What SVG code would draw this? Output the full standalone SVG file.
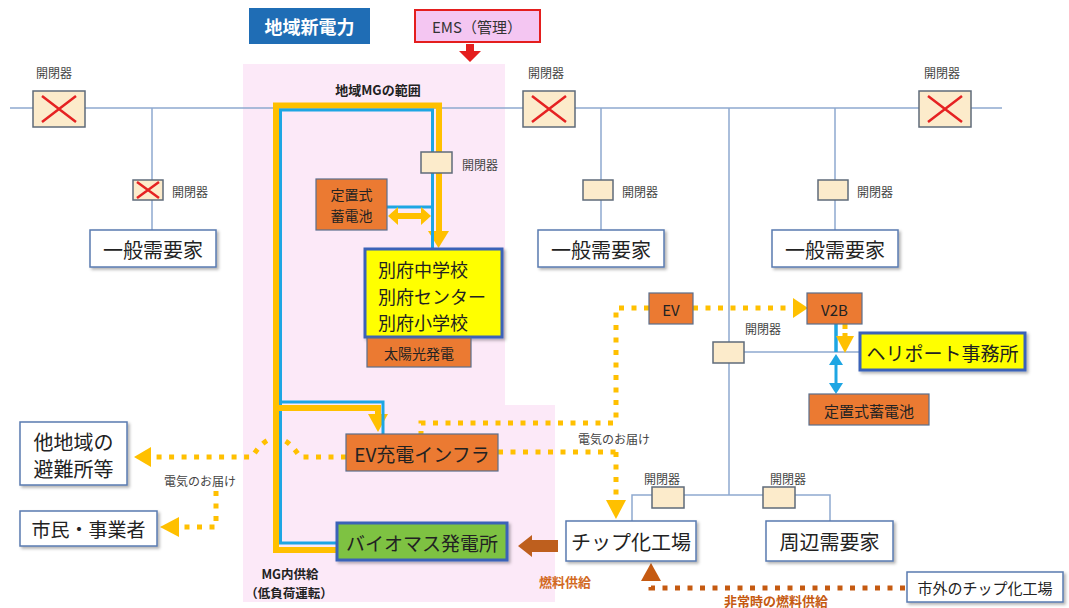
<svg xmlns="http://www.w3.org/2000/svg" width="1069" height="608" viewBox="0 0 1069 608">
<style>
text{font-family:"Noto Sans CJK JP","Noto Sans",sans-serif;fill:#222;text-anchor:middle;dominant-baseline:central}
.lbl{font-size:12px;fill:#444;text-anchor:start}
.sw{fill:#FCEBCB;stroke:#5F6B7A;stroke-width:1.5}
.x{stroke:#E52222;stroke-width:2.5;fill:none}
.wbox{fill:#fff;stroke:#5A7BB0;stroke-width:1.5;filter:url(#sh)}
.ybox{fill:#FFFF00;stroke:#3A62B8;stroke-width:3;filter:url(#sh)}
.obox{fill:#EB7A32;stroke:#5A6E8C;stroke-width:1.2}
.wire{stroke:#8EA9CF;stroke-width:1.5;fill:none}
.dot{stroke:#FFC000;stroke-width:5;stroke-dasharray:5 7.5;fill:none}
.bdot{stroke:#C55A11;stroke-width:5;stroke-dasharray:5 7.5;fill:none}
.big{font-size:20px}
.b{font-weight:bold;font-size:12.5px}
</style>
<defs>
<filter id="sh" x="-10%" y="-10%" width="130%" height="140%"><feDropShadow dx="2" dy="2" stdDeviation="1.5" flood-color="#000" flood-opacity="0.3"/></filter>
</defs>
<rect width="1069" height="608" fill="#fff"/>
<polygon points="243,64 505,64 505,405 555,405 555,602 243,602" fill="#FCE9F8"/>

<g id="connectors">
<path class="wire" d="M10,108 H1002"/>
<path class="wire" d="M152,108 V230"/>
<path class="wire" d="M601,108 V230"/>
<path class="wire" d="M835,108 V230"/>
<path class="wire" d="M729,108 V495"/>
<path class="wire" d="M744,352 H860"/>
<path class="wire" d="M632,521 V495 H830 V521"/>
<path d="M337,550 H276 V105.5 H439 V232" stroke="#FFC000" stroke-width="6" fill="none"/>
<polygon points="428,231 449,231 438.5,248" fill="#FFC000"/>
<path d="M337,543 H280.5 V110 H432.5 V248" stroke="#1EA6E3" stroke-width="3" fill="none"/>
<path d="M276,408 H378 V416" stroke="#FFC000" stroke-width="6" fill="none"/>
<polygon points="368,414 388,414 378,432" fill="#FFC000"/>
<path d="M280.5,402 H383 V434" stroke="#1EA6E3" stroke-width="3" fill="none"/>
<path d="M387,207 H432" stroke="#1EA6E3" stroke-width="3" fill="none"/>
<path d="M395,216 H424" stroke="#FFC000" stroke-width="6"/>
<polygon points="388,216 398,207 398,225" fill="#FFC000"/>
<polygon points="431,216 421,207 421,225" fill="#FFC000"/>
<polygon points="466,44 474,44 474,51 481,51 470,62 459,51 466,51" fill="#E41E1E"/>
<path class="dot" d="M693,308 H795"/>
<polygon points="793,298 793,318 808,308" fill="#FFC000"/>
<path class="dot" d="M649,308 H616 V423"/>
<path class="dot" d="M616,452 V500"/>
<polygon points="606,500 626,500 616,519" fill="#FFC000"/>
<path class="dot" d="M421,436 V423 H616"/>
<path class="dot" d="M498,452 H616"/>
<path class="dot" d="M346,457 H300 Q276,419 252,457 H150"/>
<polygon points="151,447 151,467 134,457" fill="#FFC000"/>
<path class="dot" d="M216,491 V527 H178"/>
<polygon points="179,517 179,537 160,527" fill="#FFC000"/>
<path d="M836,324 V352" stroke="#1EA6E3" stroke-width="3.5"/>
<path d="M836,364 V384" stroke="#1EA6E3" stroke-width="3"/>
<polygon points="829,365 843,365 836,354" fill="#1EA6E3"/>
<polygon points="829,383 843,383 836,394" fill="#1EA6E3"/>
<path d="M845,324 V337" stroke="#FFC000" stroke-width="5" stroke-dasharray="5 4"/>
<polygon points="836,336 854,336 845,353" fill="#FFC000"/>
<polygon points="518,546 532,535 532,540 558,540 558,552 532,552 532,557" fill="#BE5F1E"/>
<path class="bdot" d="M905,588 H651 V580"/>
<polygon points="641,581 661,581 651,563" fill="#C55A11"/>
</g>

<g id="chiiki-shin-denryoku"><rect x="249" y="8" width="121" height="36" fill="#1F6DB5"/><text x="309.5" y="26" style="fill:#fff;font-weight:bold;font-size:18px">地域新電力</text></g>
<g id="ems"><rect x="415" y="10" width="125" height="32" fill="#F4C6F2" stroke="#E41E1E" stroke-width="2"/><text x="477" y="26" style="font-size:15px;fill:#333">EMS（管理）</text></g>

<g id="sw-top1"><text x="54" y="72" style="font-size:12px;fill:#444">開閉器</text><rect class="sw" x="33" y="91" width="52" height="36"/><path class="x" d="M42,96 L76,122 M76,96 L42,122"/></g>
<g id="sw-top2"><text x="546" y="72" style="font-size:12px;fill:#444">開閉器</text><rect class="sw" x="523" y="91" width="52" height="36"/><path class="x" d="M532,96 L566,122 M566,96 L532,122"/></g>
<g id="sw-top3"><text x="942" y="72" style="font-size:12px;fill:#444">開閉器</text><rect class="sw" x="919" y="91" width="52" height="36"/><path class="x" d="M928,96 L962,122 M962,96 L928,122"/></g>

<g id="sw-left"><rect class="sw" x="133" y="180" width="30" height="20"/><path class="x" d="M137,182 L159,198 M159,182 L137,198"/><text class="lbl" x="172" y="191">開閉器</text></g>
<g id="sw-b2"><rect class="sw" x="583" y="180" width="30" height="20"/><text class="lbl" x="622" y="191">開閉器</text></g>
<g id="sw-b4"><rect class="sw" x="818" y="180" width="30" height="20"/><text class="lbl" x="857" y="191">開閉器</text></g>

<g id="demand1"><rect class="wbox" x="90" y="230" width="126" height="37"/><text class="big" x="153" y="249">一般需要家</text></g>
<g id="demand2"><rect class="wbox" x="538" y="230" width="126" height="37"/><text class="big" x="601" y="249">一般需要家</text></g>
<g id="demand3"><rect class="wbox" x="772" y="230" width="126" height="37"/><text class="big" x="835" y="249">一般需要家</text></g>

<g id="mg-label"><text class="b" x="378" y="89" style="font-size:13px">地域MGの範囲</text></g>
<g id="sw-mg"><rect class="sw" x="421" y="152" width="31" height="21"/><text class="lbl" x="462" y="164">開閉器</text></g>
<g id="battery-mg"><rect class="obox" x="316" y="179" width="71" height="51"/><text x="351.5" y="194" style="font-size:14px">定置式</text><text x="351.5" y="215" style="font-size:14px">蓄電池</text></g>
<g id="schools"><rect class="ybox" x="365" y="249" width="137" height="88"/><text x="378" y="269" style="font-size:18px;text-anchor:start">別府中学校</text><text x="378" y="295.5" style="font-size:18px;text-anchor:start">別府センター</text><text x="378" y="322" style="font-size:18px;text-anchor:start">別府小学校</text></g>
<g id="solar"><rect class="obox" x="367" y="338" width="104" height="29"/><text x="419" y="353" style="font-size:14px">太陽光発電</text></g>
<g id="ev-infra"><rect class="obox" x="346" y="434" width="152" height="37"/><text x="422" y="453" style="font-size:19px">EV充電インフラ</text></g>
<g id="biomass"><rect x="337" y="523" width="170" height="37" fill="#7EC243" stroke="#3A62B8" stroke-width="3" filter="url(#sh)"/><text x="422" y="542" style="font-size:19px">バイオマス発電所</text></g>
<g id="mg-supply-label"><text class="b" x="290" y="573">MG内供給</text><text class="b" x="289" y="592">（低負荷運転）</text></g>

<g id="other-shelters"><rect class="wbox" x="20" y="422" width="107" height="63"/><text class="big" x="73.5" y="441">他地域の</text><text class="big" x="73.5" y="468">避難所等</text></g>
<g id="citizens"><rect class="wbox" x="20" y="511" width="137" height="35"/><text x="88.5" y="528" style="font-size:19px">市民・事業者</text></g>
<g id="delivery-label-left"><text x="200" y="480" style="font-size:12px;fill:#444">電気のお届け</text></g>
<g id="delivery-label-right"><text x="614" y="438" style="font-size:12px;fill:#444">電気のお届け</text></g>

<g id="ev"><rect class="obox" x="649" y="293" width="44" height="31"/><text x="671" y="309" style="font-size:15px">EV</text></g>
<g id="v2b"><rect class="obox" x="807" y="293" width="55" height="31"/><text x="834.5" y="309" style="font-size:15px">V2B</text></g>
<g id="sw-heli"><text class="lbl" x="745" y="328">開閉器</text><rect class="sw" x="713" y="342" width="31" height="21"/></g>
<g id="heliport"><rect class="ybox" x="860" y="333" width="165" height="37"/><text x="942.5" y="352" style="font-size:19px">ヘリポート事務所</text></g>
<g id="battery-heli"><rect class="obox" x="809" y="394" width="120" height="31"/><text x="869" y="410" style="font-size:15px">定置式蓄電池</text></g>

<g id="sw-chip"><text x="662" y="478" style="font-size:12px;fill:#444">開閉器</text><rect class="sw" x="652" y="487" width="32" height="21"/></g>
<g id="sw-shuhen"><text x="788" y="478" style="font-size:12px;fill:#444">開閉器</text><rect class="sw" x="763" y="487" width="32" height="21"/></g>
<g id="chip-factory"><rect class="wbox" x="566" y="521" width="130" height="40"/><text class="big" x="631" y="541">チップ化工場</text></g>
<g id="surrounding"><rect class="wbox" x="766" y="521" width="127" height="40"/><text class="big" x="829.5" y="541">周辺需要家</text></g>
<g id="outside-chip"><rect class="wbox" x="907" y="572" width="156" height="30"/><text x="985" y="587" style="font-size:15px">市外のチップ化工場</text></g>
<g id="fuel-labels"><text class="b" x="565" y="581" style="fill:#D2691E;font-size:13px">燃料供給</text><text class="b" x="776" y="600" style="fill:#C55A11;font-size:13px">非常時の燃料供給</text></g>
</svg>
